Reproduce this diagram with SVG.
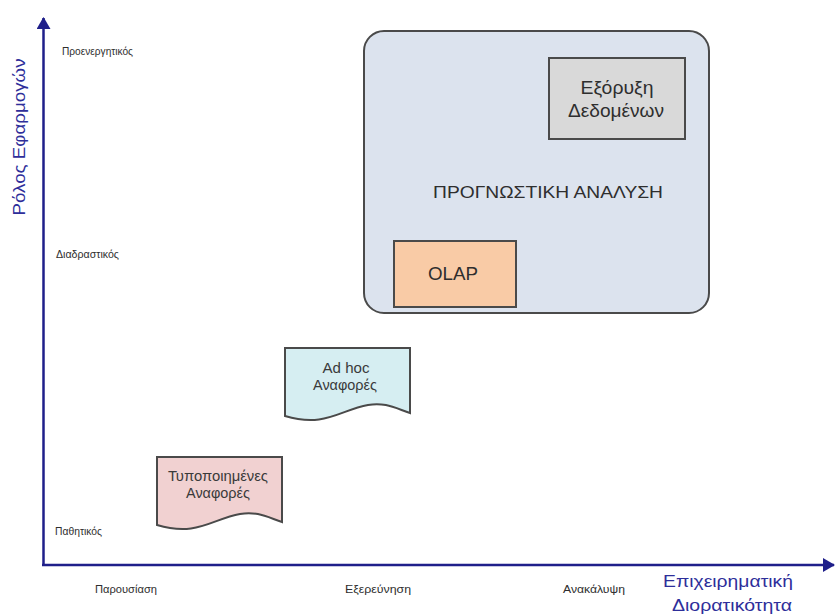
<svg xmlns="http://www.w3.org/2000/svg" width="835" height="616" viewBox="0 0 835 616">
  <style>
    text { font-family: "Liberation Sans", Arial, sans-serif; fill: #2e2e2e; }
    .tick { font-size: 11.5px; }
    .axis-title { font-size: 17px; fill: #2e2e9a; }
    .node-text { font-size: 19px; text-anchor: middle; }
    .doc-text { font-size: 14px; text-anchor: middle; fill: #3a3a3a; }
    .axis { stroke: #1f1f8a; stroke-width: 2.5; fill: none; }
    .box { stroke: #4a4a4a; stroke-width: 2; }
  </style>
  <defs>
    <marker id="axisHead" viewBox="0 0 12 14" refX="11" refY="7" markerWidth="12" markerHeight="14" markerUnits="userSpaceOnUse" orient="auto">
      <path d="M0,0 L12,7 L0,14 Z" fill="#1f1f8a"/>
    </marker>
  </defs>
  <rect width="835" height="616" fill="#ffffff"/>

  <!-- axes -->
  <g id="connectors">
    <line class="axis" x1="43.5" y1="566" x2="43.5" y2="18" marker-end="url(#axisHead)"/>
    <line class="axis" x1="42" y1="565" x2="834" y2="565" marker-end="url(#axisHead)"/>
  </g>

  <!-- axis titles and level labels -->
  <g id="y-axis-labels">
    <text class="axis-title" transform="translate(25,137) rotate(-90)" text-anchor="middle" textLength="157" lengthAdjust="spacingAndGlyphs">Ρόλος Εφαρμογών</text>
    <text class="tick" x="62" y="55" textLength="71" lengthAdjust="spacingAndGlyphs">Προενεργητικός</text>
    <text class="tick" x="56" y="258" textLength="63" lengthAdjust="spacingAndGlyphs">Διαδραστικός</text>
    <text class="tick" x="55" y="535" textLength="47" lengthAdjust="spacingAndGlyphs">Παθητικός</text>
  </g>
  <g id="x-axis-labels">
    <text class="tick" x="95" y="593" textLength="62" lengthAdjust="spacingAndGlyphs">Παρουσίαση</text>
    <text class="tick" x="345" y="593" textLength="66" lengthAdjust="spacingAndGlyphs">Εξερεύνηση</text>
    <text class="tick" x="563" y="593" textLength="62" lengthAdjust="spacingAndGlyphs">Ανακάλυψη</text>
    <text class="axis-title" x="663" y="587" textLength="130" lengthAdjust="spacingAndGlyphs">Επιχειρηματική</text>
    <text class="axis-title" x="672" y="611" textLength="120" lengthAdjust="spacingAndGlyphs">Διορατικότητα</text>
  </g>

  <!-- predictive analysis region -->
  <g id="predictive-analysis">
    <rect class="box" x="364" y="31" width="345" height="282" rx="20" ry="20" fill="#dce3ee"/>
    <text x="433" y="198" font-size="17" textLength="230" lengthAdjust="spacingAndGlyphs">ΠΡΟΓΝΩΣΤΙΚΗ ΑΝΑΛΥΣΗ</text>
  </g>

  <g id="data-mining">
    <rect class="box" x="549" y="58" width="136" height="81" fill="#d9d9d9"/>
    <text class="node-text" x="617" y="94" textLength="73" lengthAdjust="spacingAndGlyphs">Εξόρυξη</text>
    <text class="node-text" x="616" y="117" textLength="96" lengthAdjust="spacingAndGlyphs">Δεδομένων</text>
  </g>

  <g id="olap">
    <rect class="box" x="394" y="241" width="122" height="66" fill="#f9cba6"/>
    <text class="node-text" x="453" y="280" textLength="50" lengthAdjust="spacingAndGlyphs">OLAP</text>
  </g>

  <!-- report documents -->
  <g id="adhoc-reports">
    <path class="box" d="M285,348 L410,348 L410,413 C395,408 385,402 368,405 C340,410 325,428 285,416 Z" fill="#d6eef2"/>
    <text class="doc-text" x="346" y="373" textLength="47" lengthAdjust="spacingAndGlyphs">Ad hoc</text>
    <text class="doc-text" x="345" y="390" textLength="64" lengthAdjust="spacingAndGlyphs">Αναφορές</text>
  </g>

  <g id="standard-reports">
    <path class="box" d="M157,457 L282,457 L282,522 C267,517 257,511 240,514 C212,519 197,537 157,525 Z" fill="#f1d1d1"/>
    <text class="doc-text" x="218" y="481" textLength="100" lengthAdjust="spacingAndGlyphs">Τυποποιημένες</text>
    <text class="doc-text" x="218" y="498" textLength="64" lengthAdjust="spacingAndGlyphs">Αναφορές</text>
  </g>
</svg>
